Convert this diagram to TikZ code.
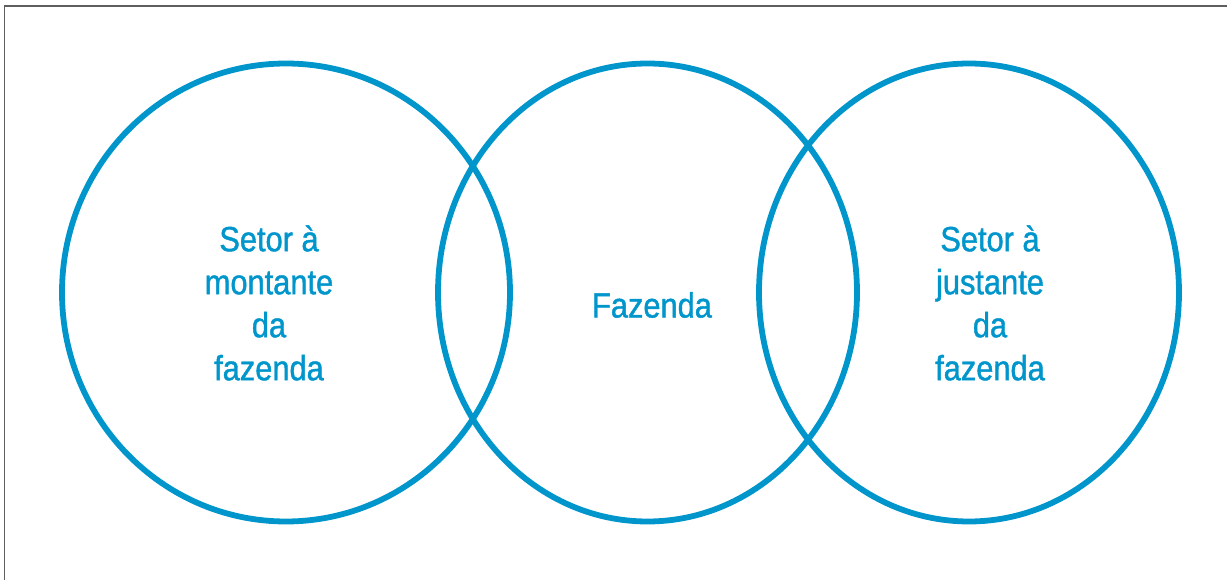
\documentclass[tikz,border=0pt]{standalone}
\usepackage{fontspec}
\setmainfont[FakeStretch=0.88,FakeBold=1.2]{Liberation Sans}
\usetikzlibrary{shapes.geometric}

\definecolor{setorblue}{RGB}{0,150,204}
\definecolor{framegray}{RGB}{95,95,95}

\tikzstyle{setorset}=[ellipse,
                      draw=setorblue,
                      line width=5.8pt,
                      inner sep=0pt]
\tikzstyle{setorlabel}=[text=setorblue,
                        align=center,
                        font=\fontsize{35}{43}\selectfont]

\begin{document}
\begin{tikzpicture}[x=1pt,y=-1pt]
    \useasboundingbox (0,0) rectangle (1227,580);
    % frame, cut off on the right and at the bottom
    \draw [framegray, line width=1.6pt] (4.5,585) -- (4.5,6) -- (1230,6);

    \node [setorset, minimum width=448pt, minimum height=458pt] (montante) at (286,292.5) {};
    \node [setorset, minimum width=419pt, minimum height=458pt] (fazenda) at (647.5,292.5) {};
    \node [setorset, minimum width=420pt, minimum height=458pt] (jusante) at (969,292.5) {};

    \node [setorlabel] (montantetext) at (269,303) {Setor à\\montante\\da\\fazenda};
    \node [setorlabel] (fazendatext) at (652,305) {Fazenda};
    \node [setorlabel] (jusantetext) at (990,303) {Setor à\\justante\\da\\fazenda};
\end{tikzpicture}
\end{document}
